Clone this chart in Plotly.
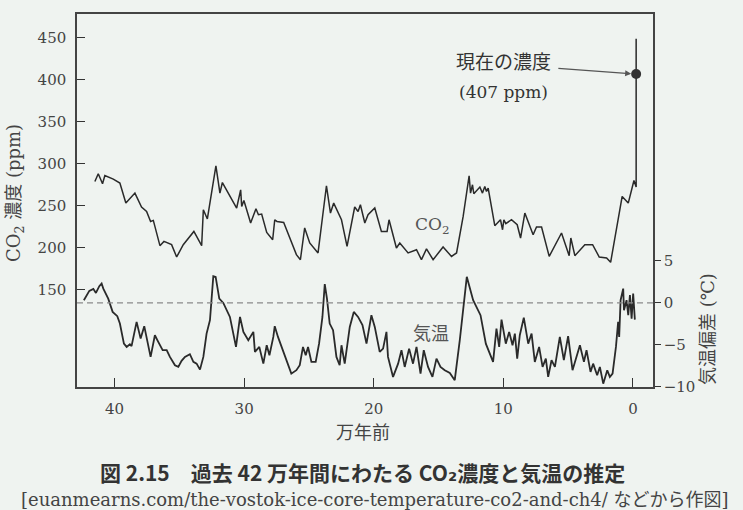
import plotly.graph_objects as go

# CO2 (ppm) vs age (10^4 years before present)
co2_age = [41.52, 41.26, 40.93, 40.75, 40.10, 39.59, 39.13, 38.43, 37.92, 37.53,
           37.22, 37.01, 36.50, 36.19, 35.60, 35.21, 34.70, 33.88, 33.28, 33.15,
           32.84, 32.18, 31.87, 31.68, 30.58, 30.27, 30.19, 30.02, 29.50, 29.09,
           28.90, 28.65, 28.26, 27.80, 27.64, 27.47, 26.95, 25.97, 25.66, 25.33,
           24.94, 24.30, 23.65, 23.34, 23.09, 22.49, 22.06, 21.47, 21.21, 21.03,
           20.69, 20.44, 19.92, 19.41, 18.97, 18.82, 18.25, 17.99, 17.35, 16.70,
           16.32, 15.93, 15.42, 14.65, 14.00, 13.61, 13.10, 12.64, 12.53, 12.38,
           12.28, 11.81, 11.61, 11.43, 11.30, 11.17, 10.66, 10.22, 10.06, 9.96,
           9.81, 9.37, 8.93, 8.67, 8.34, 7.70, 7.44, 7.05, 6.46, 5.51,
           4.92, 4.79, 4.48, 3.71, 3.11, 2.60, 2.03, 1.72, 0.83, 0.36,
           -0.08, -0.25, -0.25]
co2_ppm = [278.9, 288.1, 276.2, 286.1, 281.8, 277.0, 253.2, 265.1, 248.5, 243.2,
           231.3, 232.5, 202.4, 207.5, 203.6, 188.9, 203.6, 219.4, 202.4, 245.2,
           234.2, 297.6, 265.1, 277.7, 247.3, 269.0, 249.2, 256.3, 229.4, 246.4,
           239.3, 240.1, 218.2, 209.5, 233.3, 231.3, 230.1, 191.7, 185.7, 223.5,
           205.6, 193.7, 273.8, 241.3, 253.2, 233.3, 201.5, 248.5, 243.2, 251.2,
           229.4, 239.3, 247.3, 219.4, 219.4, 233.3, 199.6, 205.6, 193.7, 197.6,
           185.7, 198.5, 185.7, 200.8, 189.6, 193.7, 237.3, 285.7, 265.1, 275.0,
           264.3, 272.3, 265.1, 273.0, 267.0, 271.1, 226.2, 233.3, 221.4, 233.3,
           228.6, 233.3, 227.4, 211.5, 241.3, 215.5, 224.6, 224.6, 189.6, 217.5,
           190.5, 211.5, 190.5, 203.6, 203.6, 188.9, 187.7, 182.5, 261.1, 253.2,
           280.1, 272.3, 449.0]

# temperature deviation (deg C) vs age
temp_age = [42.37, 41.95, 41.64, 41.44, 41.18, 41.00, 40.87, 40.49, 40.15, 39.79,
            39.59, 39.28, 39.07, 38.82, 38.69, 38.30, 37.99, 37.71, 37.22, 36.89,
            36.63, 36.29, 35.98, 35.73, 35.34, 35.08, 34.83, 34.57, 34.19, 33.92,
            33.67, 33.41, 33.15, 32.90, 32.64, 32.38, 32.20, 31.92, 31.61, 31.10,
            30.63, 30.32, 30.06, 29.68, 29.29, 29.17, 28.83, 28.52, 28.26, 28.05,
            27.75, 27.64, 27.39, 27.00, 26.62, 26.36, 25.97, 25.71, 25.46, 25.25,
            25.07, 24.81, 24.48, 24.22, 23.96, 23.78, 23.61, 23.40, 23.14, 22.88,
            22.63, 22.49, 22.24, 21.85, 21.54, 21.21, 20.87, 20.56, 20.18, 19.92,
            19.54, 19.28, 19.02, 18.90, 18.51, 18.12, 17.86, 17.61, 17.27, 16.97,
            16.70, 16.39, 16.14, 15.81, 15.47, 15.16, 14.85, 14.52, 14.13, 13.75,
            13.36, 12.82, 12.33, 11.76, 11.35, 10.79, 10.53, 10.32, 10.14, 9.81,
            9.55, 9.29, 9.11, 8.93, 8.73, 8.42, 8.08, 7.82, 7.57, 7.24,
            6.97, 6.72, 6.54, 6.28, 6.02, 5.64, 5.33, 5.00, 4.66, 4.30,
            4.09, 3.78, 3.58, 3.27, 3.07, 2.76, 2.55, 2.29, 1.98, 1.78,
            1.57, 1.31, 1.14, 1.06, 0.95, 0.75, 0.69, 0.49, 0.36, 0.23,
            0.10, -0.02, -0.15]
temp_dev = [0.32, 1.43, 1.67, 1.19, 1.99, 2.30, 1.70, 0.51, -1.07, -1.58,
            -2.46, -4.85, -5.24, -4.92, -5.15, -2.26, -4.25, -2.77, -6.43, -3.85,
            -4.64, -5.63, -5.63, -6.43, -7.42, -7.62, -6.90, -6.43, -6.11, -7.02,
            -7.23, -7.94, -6.43, -3.65, -2.06, 3.18, 3.10, 0.51, 0.00, -1.67,
            -5.24, -1.67, -3.45, -4.44, -3.45, -5.83, -5.24, -7.23, -5.04, -6.23,
            -4.05, -2.77, -4.05, -5.63, -7.23, -8.42, -8.01, -7.42, -5.24, -6.23,
            -5.24, -7.02, -7.02, -4.85, -1.67, 2.23, 0.51, -2.46, -3.25, -6.43,
            -7.42, -5.04, -7.23, -2.86, -1.07, -1.67, -2.65, -4.85, -1.46, -2.86,
            -5.83, -5.44, -3.45, -6.43, -8.81, -7.23, -5.63, -7.62, -5.44, -7.23,
            -5.24, -8.42, -5.63, -7.62, -8.81, -6.63, -7.62, -8.01, -8.33, -9.20,
            -4.44, 3.10, 0.32, -1.46, -4.85, -7.02, -3.06, -5.24, -1.99, -4.85,
            -3.45, -5.04, -3.65, -6.63, -3.85, -1.75, -4.85, -3.65, -7.02, -5.24,
            -7.62, -6.63, -8.81, -6.82, -7.62, -4.05, -6.82, -3.96, -8.01, -6.23,
            -5.04, -7.02, -5.63, -8.21, -7.23, -8.61, -7.62, -9.61, -8.01, -8.81,
            -8.42, -5.24, -2.26, -4.05, 0.32, 1.70, -0.87, 0.32, -1.46, 0.92,
            -1.87, 1.11, -1.99]

now_age = -0.25
now_ppm = 407

x_ticks = [40, 30, 20, 10, 0]
co2_ticks = [150, 200, 250, 300, 350, 400, 450]
temp_ticks = [-10, -5, 0, 5]

BG = "#eff3f0"
INK = "#2a2a2a"
SERIF = "DejaVu Serif, Noto Sans CJK JP"
GOTHIC = "Noto Sans CJK JP, DejaVu Sans"

fig = go.Figure()

fig.add_trace(go.Scatter(x=co2_age, y=co2_ppm, mode="lines",
                         line=dict(color=INK, width=1.5), yaxis="y"))
fig.add_trace(go.Scatter(x=temp_age, y=temp_dev, mode="lines",
                         line=dict(color=INK, width=1.8), yaxis="y2"))
fig.add_trace(go.Scatter(x=[now_age], y=[now_ppm], mode="markers",
                         marker=dict(color="#333333", size=10), yaxis="y"))

axis_font = dict(family=SERIF, size=15, color="#444444")

fig.update_layout(
    width=743, height=510,
    margin=dict(l=77, r=90, t=14, b=123),
    paper_bgcolor=BG, plot_bgcolor=BG,
    showlegend=False,
    xaxis=dict(range=[42.9, -1.55], tickvals=x_ticks, ticks="inside", ticklen=9,
               tickcolor="#333333", showline=True, linecolor="#444444", linewidth=1.5,
               mirror=True, showgrid=False, zeroline=False, tickfont=axis_font,
               ticklabelstandoff=7),
    yaxis=dict(range=[33.9, 478.6], tickvals=co2_ticks, ticks="inside", ticklen=8,
               tickcolor="#333333", showline=True, linecolor="#444444", linewidth=1.5,
               mirror=True, showgrid=False, zeroline=False, tickfont=axis_font,
               ticklabelstandoff=6),
    yaxis2=dict(range=[-10.01, 34.39], tickvals=temp_ticks, overlaying="y", side="right",
                ticks="outside", ticklen=6, tickcolor="#333333", showline=True,
                linecolor="#444444", linewidth=1.5, showgrid=False, zeroline=False,
                tickfont=axis_font),
)

# dashed zero line for the temperature
fig.add_shape(type="line", xref="paper", x0=0, x1=1, yref="y2", y0=0, y1=0,
              line=dict(color="#8a8a8a", width=1.2, dash="6px,4px"))

def note(x, y, text, size, color="#444444", family=SERIF, angle=0):
    return dict(xref="paper", yref="paper", x=x, y=y, text=text, textangle=angle,
                xanchor="center", yanchor="middle", showarrow=False,
                font=dict(family=family, size=size, color=color))

ann = [
    note(-0.1076, 0.520, "CO<sub>2</sub> 濃度 (ppm)", 18, angle=-90),
    note(1.0955, 0.1555, "気温偏差 (℃)", 18, angle=-90),
    note(0.4965, -0.1233, "万年前", 18),
    note(0.4948, -0.2279, "<b>図 2.15　過去 42 万年間にわたる CO₂濃度と気温の推定</b>",
         21, color="#333333", family=GOTHIC),
    note(0.5174, -0.3003,
         "[euanmearns.com/the-vostok-ice-core-temperature-co2-and-ch4/ などから作図]", 18),
]
ann.append(dict(x=15.5, y=226, xref="x", yref="y", text="CO<sub>2</sub>",
                showarrow=False, font=dict(family=SERIF, size=17, color="#555555")))
ann.append(dict(x=15.6, y=-3.6, xref="x", yref="y2", text="気温",
                showarrow=False, font=dict(family=SERIF, size=18, color="#555555")))
ann.append(dict(x=10.0, y=421, xref="x", yref="y", text="現在の濃度",
                showarrow=False, font=dict(family=SERIF, size=19, color="#333333")))
ann.append(dict(x=10.0, y=386, xref="x", yref="y", text="(407 ppm)",
                showarrow=False, font=dict(family=SERIF, size=17, color="#333333")))
ann.append(dict(x=now_age, y=now_ppm, xref="x", yref="y", ax=5.87, ay=414,
                axref="x", ayref="y", text="", showarrow=True, arrowhead=2,
                arrowsize=1, arrowwidth=1.2, arrowcolor="#555555", standoff=5))
fig.update_layout(annotations=ann)

# drop the browser's default page margin so the figure sits at the window corner
fig.write_html("out.html", config={"displayModeBar": False},
               post_script="document.body.style.margin='0';"
                           "document.body.style.backgroundColor='" + BG + "';")
